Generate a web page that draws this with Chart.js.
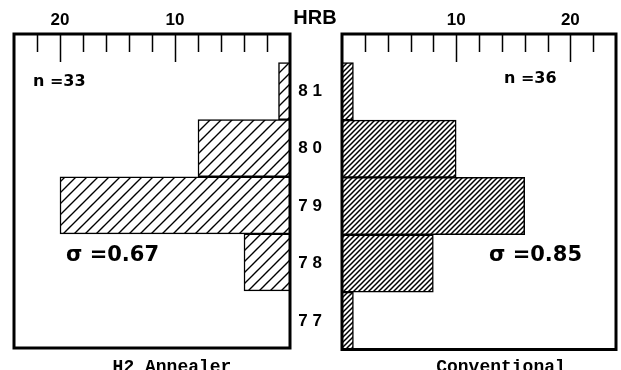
<!DOCTYPE html>
<html>
<head>
<meta charset="utf-8">
<script src="https://cdn.jsdelivr.net/npm/chart.js@4.4.0/dist/chart.umd.min.js"></script>
<style>
  body { margin: 0; background: #fff; }
  #wrap { position: relative; width: 621px; height: 370px; overflow: hidden; }
  .panel { position: absolute; top: 0; height: 370px; }
</style>
</head>
<body>
<div id="wrap">
  <div class="panel" style="left:0;width:295px"><canvas id="leftChart"></canvas></div>
  <div class="panel" style="left:290px;width:331px"><canvas id="rightChart"></canvas></div>
</div>
<script>
const hrbLevels = [77, 78, 79, 80, 81];
const annealerCounts = [0, 4, 20, 8, 1];
const conventionalCounts = [1, 8, 16, 10, 1];
const countTicks = [10, 20];
const panelTitles = ["H2 Annealer", "Conventional"];
const sampleSizes = ["n =33", "n =36"];
const sigmaLabels = ["\u03c3 =0.67", "\u03c3 =0.85"];
const axisName = "HRB";

const boldFont = "'Liberation Sans', Arial, sans-serif";
const wideFont = "'DejaVu Sans', Verdana, sans-serif";
const narrowFont = "'Liberation Sans Narrow', 'Liberation Sans', Arial, sans-serif";
const monoFont = "'Liberation Mono', 'DejaVu Sans Mono', monospace";

// patron de rayado diagonal
function makeHatch(spacing, lineWidth) {
  const c = document.createElement("canvas");
  c.width = spacing;
  c.height = spacing;
  const g = c.getContext("2d");
  g.fillStyle = "#fff";
  g.fillRect(0, 0, spacing, spacing);
  g.strokeStyle = "#000";
  g.lineWidth = lineWidth;
  g.beginPath();
  g.moveTo(-1, spacing + 1);
  g.lineTo(spacing + 1, -1);
  g.moveTo(-2, 2);
  g.lineTo(2, -2);
  g.moveTo(spacing - 2, spacing + 2);
  g.lineTo(spacing + 2, spacing - 2);
  g.stroke();
  return g.createPattern(c, "repeat");
}

function toPoints(counts) {
  return hrbLevels
    .map((y, i) => ({ x: counts[i], y: y }))
    .filter((p) => p.x > 0);
}

// marco grueso, marcas interiores y textos del panel
function panelPlugin(cfg) {
  return {
    id: "panelDeco",
    afterDatasetsDraw(chart) {
      const ctx = chart.ctx;
      const a = chart.chartArea;
      const xs = chart.scales.x;
      ctx.save();
      ctx.strokeStyle = "#000";
      ctx.lineWidth = 1.5;
      ctx.beginPath();
      for (let v = 2; v < xs.max; v += 2) {
        const px = Math.round(xs.getPixelForValue(v)) + 0.5;
        const len = v % 10 === 0 ? 28 : 18;
        ctx.moveTo(px, a.top);
        ctx.lineTo(px, a.top + len);
      }
      ctx.stroke();
      ctx.lineWidth = 3;
      ctx.strokeRect(a.left, a.top, a.right - a.left, a.bottom - a.top);

      ctx.fillStyle = "#000";
      ctx.textBaseline = "middle";
      ctx.textAlign = "left";
      ctx.font = "bold 16px " + wideFont;
      ctx.fillText(cfg.n, cfg.nPos[0], cfg.nPos[1]);
      ctx.font = "bold 21px " + wideFont;
      ctx.fillText(cfg.sigma, cfg.sigmaPos[0], cfg.sigmaPos[1]);
      ctx.textAlign = "center";
      ctx.font = "bold 18px " + monoFont;
      ctx.fillText(cfg.title, cfg.titlePos[0], cfg.titlePos[1]);
      if (cfg.extra) {
        ctx.font = "bold 20px " + narrowFont;
        ctx.fillText(cfg.extra, cfg.extraPos[0], cfg.extraPos[1]);
      }
      ctx.restore();
    },
  };
}

function topAxis(reverse) {
  return {
    type: "linear",
    position: "top",
    reverse: reverse,
    min: 0,
    max: 24,
    afterBuildTicks: (s) => {
      s.ticks = countTicks.map((v) => ({ value: v }));
    },
    afterFit: (s) => {
      s.height = 34;
    },
    grid: { display: false },
    border: { display: false },
    ticks: {
      color: "#000",
      padding: -5,
      maxRotation: 0,
      font: { family: boldFont, size: 17, weight: "bold", lineHeight: 1.2 },
    },
  };
}

function sideAxis(showLabels) {
  const axis = {
    type: "linear",
    position: "left",
    display: showLabels,
    offset: false,
    min: 76.5,
    max: 82,
    afterBuildTicks: (s) => {
      s.ticks = hrbLevels.map((v) => ({ value: v }));
    },
    grid: { display: false, offset: false },
    border: { display: false },
    ticks: {
      color: "#000",
      padding: 12,
      font: { family: boldFont, size: 17, weight: "bold", lineHeight: 1 },
      callback: (v) => String(v).split("").join(" "),
    },
  };
  if (showLabels) {
    axis.afterFit = (s) => {
      s.width = 52;
    };
  }
  return axis;
}

function barDataset(counts, pattern) {
  return {
    data: toPoints(counts),
    backgroundColor: pattern,
    borderColor: "#000",
    borderWidth: 1.5,
    borderSkipped: "start",
    barPercentage: 1,
    categoryPercentage: 1,
  };
}

function baseOptions(padding, showSide) {
  return {
    responsive: true,
    maintainAspectRatio: false,
    animation: false,
    indexAxis: "y",
    datasets: { bar: { barPercentage: 1, categoryPercentage: 1 } },
    layout: { padding: padding },
    plugins: { legend: { display: false }, tooltip: { enabled: false } },
    scales: {
      x: topAxis(!showSide),
      y: sideAxis(showSide),
    },
  };
}

const leftCtx = document.getElementById("leftChart").getContext("2d");
new Chart(leftCtx, {
  type: "bar",
  data: { datasets: [barDataset(annealerCounts, makeHatch(11, 1.4))] },
  options: baseOptions({ left: 14, right: 5, top: 0, bottom: 22 }, false),
  plugins: [
    panelPlugin({
      n: sampleSizes[0],
      nPos: [33, 82],
      sigma: sigmaLabels[0],
      sigmaPos: [66, 256],
      title: panelTitles[0],
      titlePos: [172, 367],
    }),
  ],
});

const rightCtx = document.getElementById("rightChart").getContext("2d");
new Chart(rightCtx, {
  type: "bar",
  data: { datasets: [barDataset(conventionalCounts, makeHatch(5, 1.5))] },
  options: baseOptions({ left: 0, right: 5, top: 0, bottom: 17 }, true),
  plugins: [
    panelPlugin({
      n: sampleSizes[1],
      nPos: [214, 79],
      sigma: sigmaLabels[1],
      sigmaPos: [199, 256],
      title: panelTitles[1],
      titlePos: [211, 367],
      extra: axisName,
      extraPos: [25, 18],
    }),
  ],
});
</script>
</body>
</html>
